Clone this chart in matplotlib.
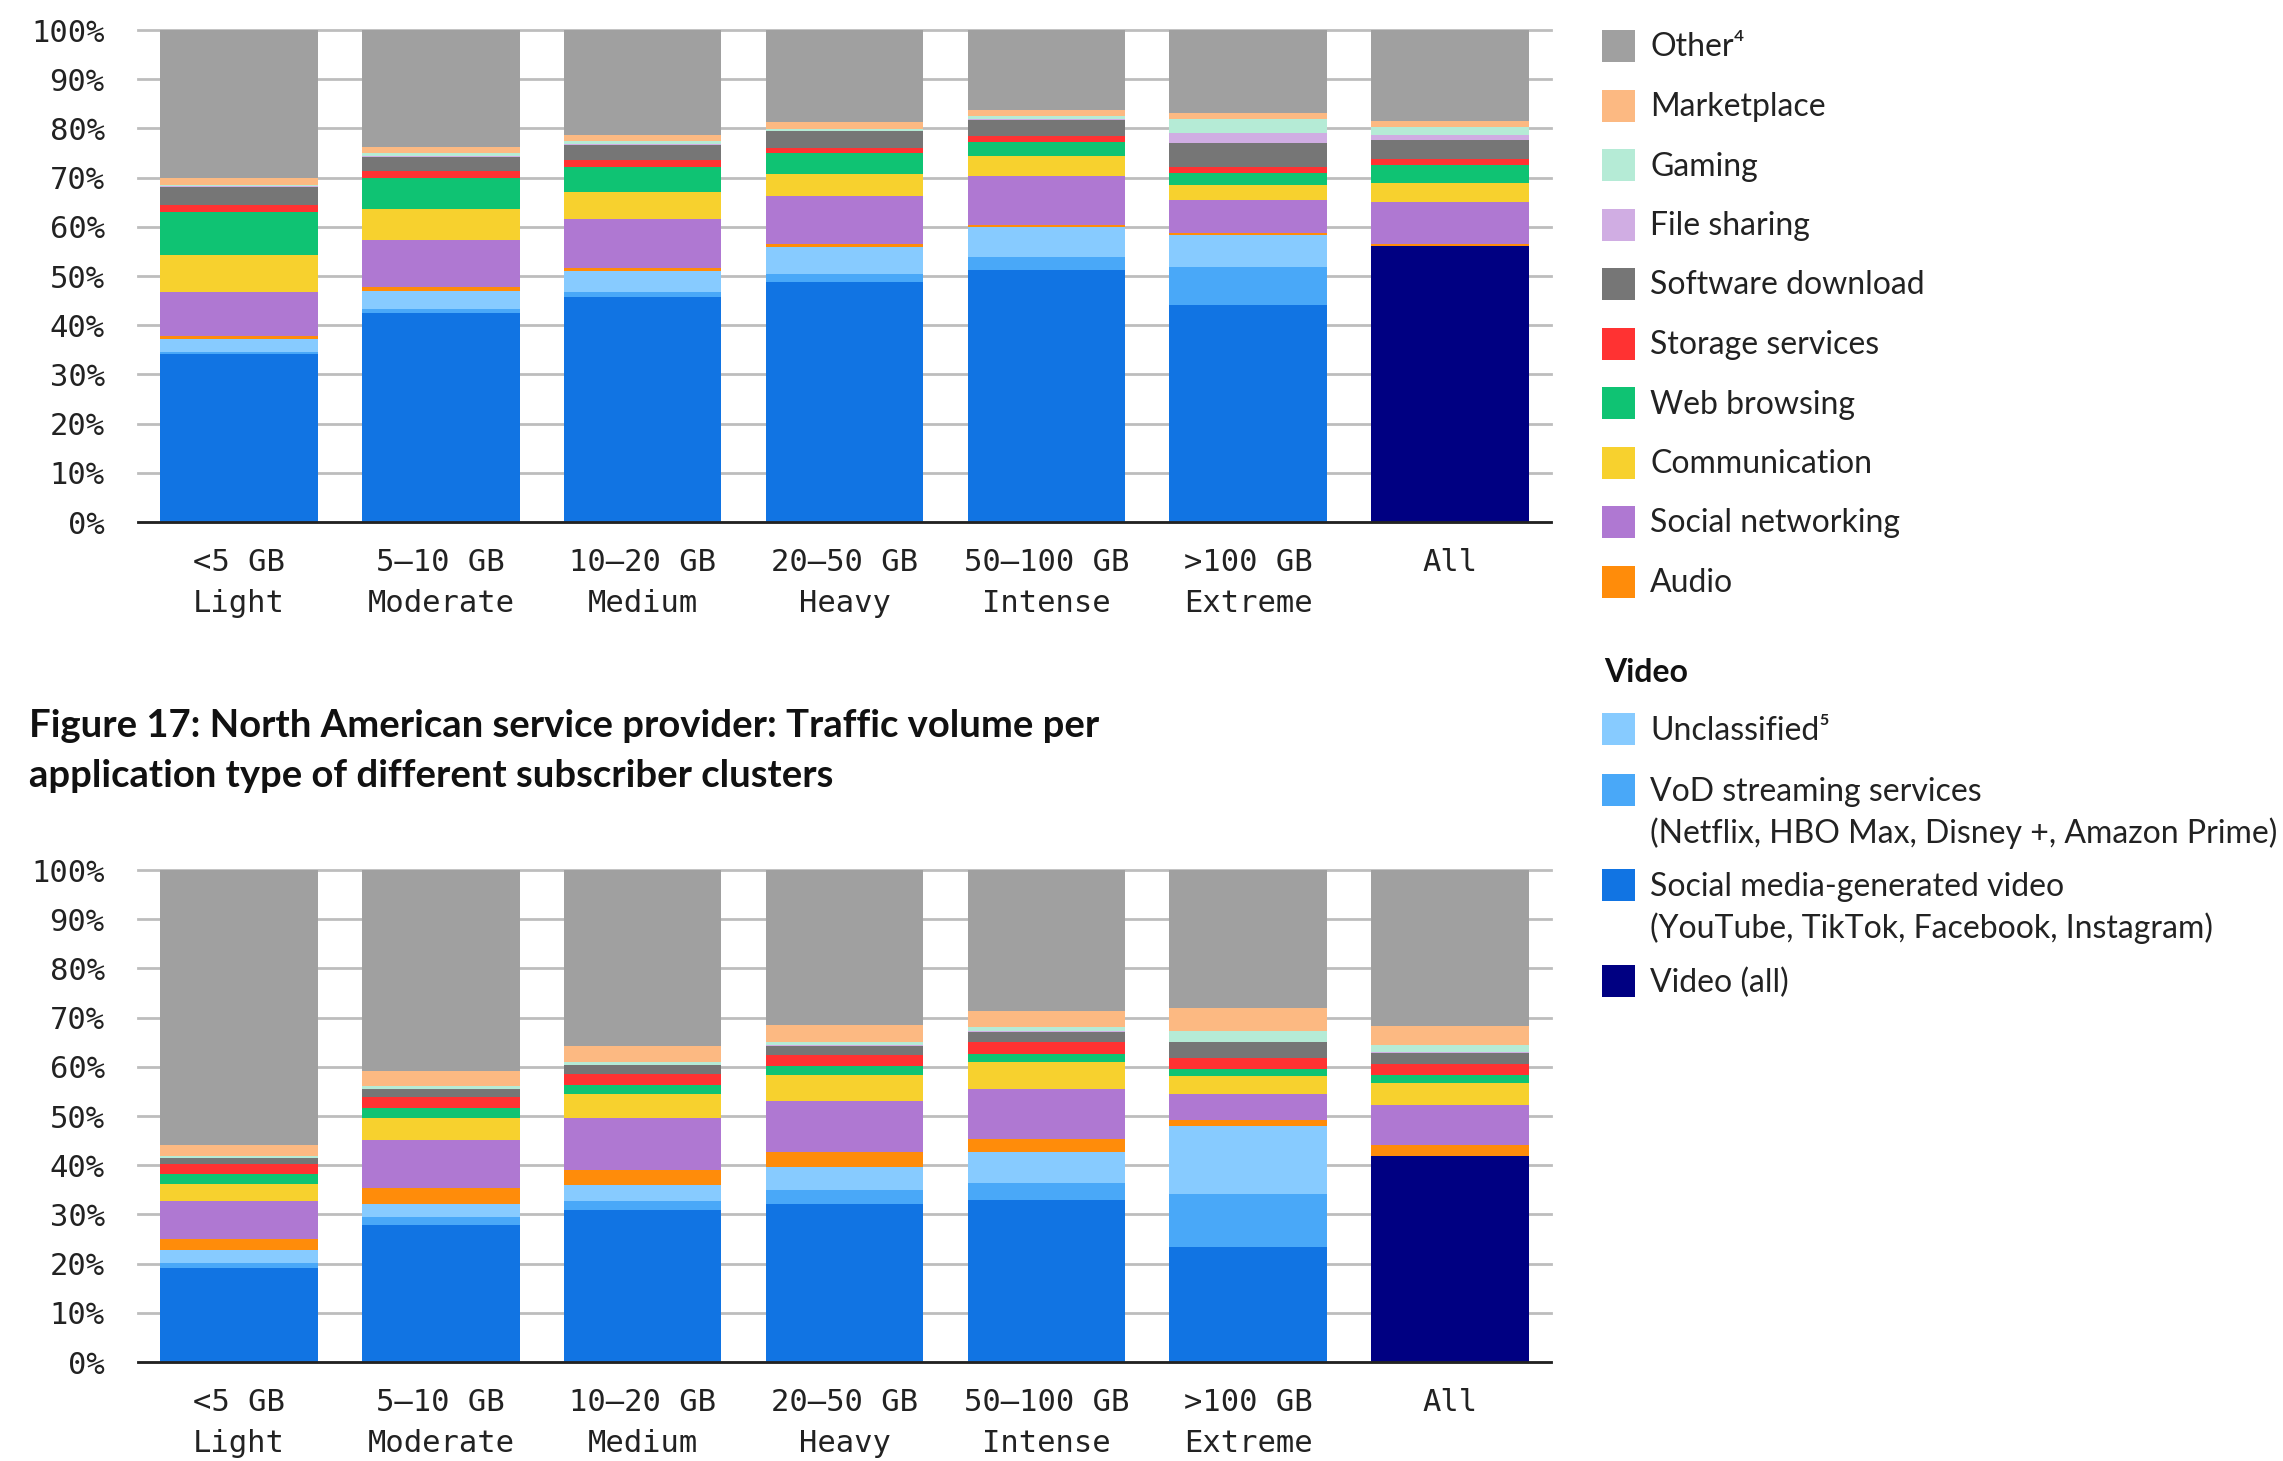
import numpy as np
import matplotlib
matplotlib.use("Agg")
import matplotlib.pyplot as plt
from matplotlib.patches import Rectangle

W, H = 2283, 1461
MONO = "DejaVu Sans Mono"
SANS = ["Lato", "DejaVu Sans"]

clusters = ["<5 GB\nLight", "5–10 GB\nModerate", "10–20 GB\nMedium",
            "20–50 GB\nHeavy", "50–100 GB\nIntense", ">100 GB\nExtreme", "All"]

# stack order, bottom -> top
series = ["Social media-generated video", "VoD streaming services", "Unclassified",
          "Video (all)", "Audio", "Social networking", "Communication",
          "Web browsing", "Storage services", "Software download",
          "File sharing", "Gaming", "Marketplace", "Other"]

colors = {
    "Other": "#a0a0a0", "Marketplace": "#fcb982", "Gaming": "#b5ebd6",
    "File sharing": "#d0ade3", "Software download": "#767676",
    "Storage services": "#ff3232", "Web browsing": "#0fc373",
    "Communication": "#f7d12e", "Social networking": "#af78d2",
    "Audio": "#ff8c0a", "Unclassified": "#87cbff",
    "VoD streaming services": "#49a8f8",
    "Social media-generated video": "#1174e3", "Video (all)": "#000082",
}

# upper chart (% of traffic)
top_social_video = [34.1, 42.5, 45.8, 48.8, 51.2, 44.2, 0]
top_vod = [0.4, 0.7, 1.0, 1.7, 2.6, 7.7, 0]
top_unclassified = [2.6, 3.8, 4.2, 5.4, 6.2, 6.5, 0]
top_video_all = [0, 0, 0, 0, 0, 0, 56.1]
top_audio = [0.7, 0.7, 0.7, 0.6, 0.3, 0.3, 0.4]
top_social_net = [8.9, 9.6, 9.9, 9.8, 10.0, 6.7, 8.5]
top_communication = [7.6, 6.3, 5.5, 4.5, 4.0, 3.1, 3.9]
top_web = [8.7, 6.4, 5.1, 4.1, 3.0, 2.5, 3.7]
top_storage = [1.5, 1.3, 1.4, 1.2, 1.2, 1.1, 1.2]
top_software = [3.5, 2.9, 3.1, 3.3, 3.2, 5.0, 3.9]
top_file = [0.2, 0.2, 0.2, 0.15, 0.3, 1.9, 1.0]
top_gaming = [0.2, 0.5, 0.6, 0.25, 0.6, 3.0, 1.6]
top_market = [1.6, 1.3, 1.2, 1.4, 1.1, 1.1, 1.2]
top_other = [30.0, 23.8, 21.3, 18.8, 16.3, 16.9, 18.5]

# lower chart: Figure 17, North American service provider
bot_social_video = [19.2, 27.9, 30.8, 32.2, 32.9, 23.4, 0]
bot_vod = [1.0, 1.5, 1.9, 2.8, 3.5, 10.8, 0]
bot_unclassified = [2.5, 2.8, 3.3, 4.7, 6.3, 13.7, 0]
bot_video_all = [0, 0, 0, 0, 0, 0, 41.9]
bot_audio = [2.4, 3.1, 3.1, 2.9, 2.6, 1.2, 2.3]
bot_social_net = [7.6, 9.8, 10.4, 10.5, 10.1, 5.3, 8.1]
bot_communication = [3.5, 4.4, 4.9, 5.3, 5.6, 3.8, 4.5]
bot_web = [2.1, 2.2, 1.9, 1.7, 1.6, 1.3, 1.5]
bot_storage = [1.9, 2.1, 2.3, 2.3, 2.4, 2.2, 2.2]
bot_software = [1.2, 1.6, 1.7, 1.9, 2.1, 3.3, 2.4]
bot_file = [0.1, 0.1, 0.1, 0.2, 0.2, 0.1, 0.1]
bot_gaming = [0.4, 0.6, 0.6, 0.6, 0.7, 2.2, 1.5]
bot_market = [2.2, 3.0, 3.2, 3.3, 3.3, 4.6, 3.7]
bot_other = [55.9, 40.9, 35.8, 31.6, 28.7, 28.1, 31.8]

top_data = [top_social_video, top_vod, top_unclassified, top_video_all, top_audio,
            top_social_net, top_communication, top_web, top_storage, top_software,
            top_file, top_gaming, top_market, top_other]
bot_data = [bot_social_video, bot_vod, bot_unclassified, bot_video_all, bot_audio,
            bot_social_net, bot_communication, bot_web, bot_storage, bot_software,
            bot_file, bot_gaming, bot_market, bot_other]

legend_main = ["Other", "Marketplace", "Gaming", "File sharing", "Software download",
               "Storage services", "Web browsing", "Communication",
               "Social networking", "Audio"]
legend_main_text = {"Other": "Other\u2074"}
legend_video = [("Unclassified", "Unclassified\u2075"),
                ("VoD streaming services",
                 "VoD streaming services\n(Netflix, HBO Max, Disney +, Amazon Prime)"),
                ("Social media-generated video",
                 "Social media-generated video\n(YouTube, TikTok, Facebook, Instagram)"),
                ("Video (all)", "Video (all)")]


def draw_panel(ax, data):
    x = np.arange(len(clusters))
    bottom = np.zeros(len(clusters))
    for name, vals in zip(series, data):
        v = np.array(vals, dtype=float)
        ax.bar(x, v, 0.78, bottom=bottom, color=colors[name], linewidth=0, zorder=3)
        bottom += v
    ax.set_xlim(-0.5, 6.5)
    ax.set_ylim(0, 100)
    ax.set_yticks(np.arange(0, 101, 10))
    ax.set_yticklabels([f"{t}%" for t in range(0, 101, 10)])
    ax.set_xticks(x)
    ax.set_xticklabels(clusters, linespacing=1.5)
    ax.yaxis.grid(True, color="#bdbdbd", linewidth=2.0, zorder=0)
    for ln in ax.get_ygridlines():
        ln.set_clip_on(False)
    for s in ["top", "right", "left"]:
        ax.spines[s].set_visible(False)
    ax.spines["bottom"].set_color("#222222")
    ax.spines["bottom"].set_linewidth(2.0)
    ax.spines["bottom"].set_zorder(4)
    ax.tick_params(axis="both", length=0, labelsize=22, colors="#222222")
    ax.tick_params(axis="y", pad=24)
    ax.tick_params(axis="x", pad=19)
    for lab in ax.get_xticklabels() + ax.get_yticklabels():
        lab.set_family(MONO)


fig = plt.figure(figsize=(W / 100, H / 100), dpi=100)

ax1 = fig.add_axes([138 / W, 1 - 522 / H, (1551 - 138) / W, 492 / H])
draw_panel(ax1, top_data)
ax2 = fig.add_axes([138 / W, 1 - 1362 / H, (1551 - 138) / W, 492 / H])
draw_panel(ax2, bot_data)

fig.text(29 / W, 1 - 751 / H,
         "Figure 17: North American service provider: Traffic volume per\n"
         "application type of different subscriber clusters",
         family=SANS, fontweight="bold", fontsize=27.5, va="center", ha="left",
         linespacing=1.55, color="#111111")

# legend, drawn in pixel space
lg = fig.add_axes([0, 0, 1, 1], zorder=-1)
lg.set_xlim(0, W)
lg.set_ylim(H, 0)
lg.axis("off")

y = 46
for name in legend_main:
    lg.add_patch(Rectangle((1602, y - 16), 33, 32, color=colors[name], linewidth=0))
    lg.text(1650, y + 1.5, legend_main_text.get(name, name), family=SANS, fontsize=23,
            va="center", ha="left", color="#222222")
    y += 59.5

lg.text(1604, 673, "Video", family=SANS, fontsize=23, fontweight="bold",
        va="center", ha="left", color="#111111")
ys = [729, 790, 885, 981]
for (name, text), yy in zip(legend_video, ys):
    lg.add_patch(Rectangle((1602, yy - 16), 33, 32, color=colors[name], linewidth=0))
    lg.text(1650, yy - 13, text, family=SANS, fontsize=23, va="top", ha="left",
            linespacing=1.4, color="#222222")

fig.savefig("out.png", dpi=100)
